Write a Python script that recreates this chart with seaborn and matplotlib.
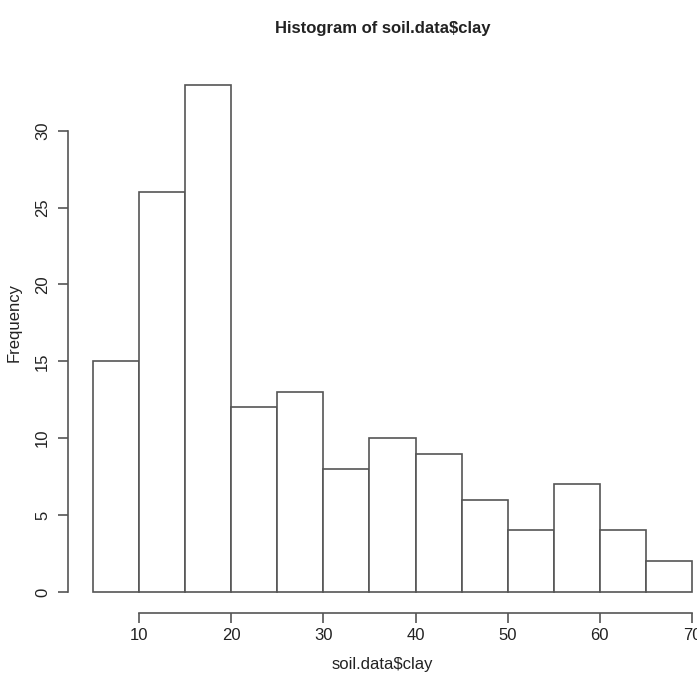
import matplotlib
matplotlib.use("Agg")
import matplotlib.pyplot as plt
import seaborn as sns
import pandas as pd
import numpy as np

bin_edges = [5, 10, 15, 20, 25, 30, 35, 40, 45, 50, 55, 60, 65, 70]
counts = [15, 26, 33, 12, 13, 8, 10, 9, 6, 4, 7, 4, 2]
x_ticks = [10, 20, 30, 40, 50, 60, 70]
y_ticks = [0, 5, 10, 15, 20, 25, 30]

sns.set_style("white")
plt.rcParams['font.family'] = ['Liberation Sans', 'DejaVu Sans']

df = pd.DataFrame({"clay": [(bin_edges[i] + bin_edges[i + 1]) / 2 for i in range(len(counts))],
                   "n": counts})

fig = plt.figure(figsize=(6.97, 6.74), dpi=100)
ax = fig.add_axes([68 / 697, 61 / 674, 629 / 697, 553 / 674])

sns.histplot(data=df, x="clay", weights="n", bins=bin_edges, ax=ax,
             color="white", edgecolor="#555555", linewidth=1.2, alpha=1)

ax.set_xlim(2.29, 70.54)
ax.set_ylim(-1.37, 34.6)

for s in ["top", "right"]:
    ax.spines[s].set_visible(False)
for s in ["left", "bottom"]:
    ax.spines[s].set_color("#555555")
    ax.spines[s].set_linewidth(1.2)
    ax.spines[s].set_clip_on(False)
ax.spines["left"].set_bounds(0, 30)
ax.spines["bottom"].set_bounds(10, 70)

ax.set_xticks(x_ticks)
ax.set_yticks(y_ticks)
ax.set_yticklabels([str(v) for v in y_ticks], rotation=90, va="center")
ax.tick_params(axis="both", which="both", direction="out", length=7, width=1.2,
               color="#555555", labelsize=12, labelcolor="#222222")
ax.tick_params(axis="x", pad=4, bottom=True)
ax.tick_params(axis="y", pad=6, left=True)

ax.set_xlabel("soil.data$clay", fontsize=12, color="#222222", labelpad=10)
ax.set_ylabel("Frequency", fontsize=12, color="#222222", labelpad=8)
ax.yaxis.set_label_coords(-0.073, (674 - 322 - 61) / 553)
ax.set_title("Histogram of soil.data$clay", fontsize=12, fontweight="bold",
             color="#222222", pad=0, y=(674 - 33 - 61) / 553)

fig.savefig("out.png", dpi=100, facecolor="white")
